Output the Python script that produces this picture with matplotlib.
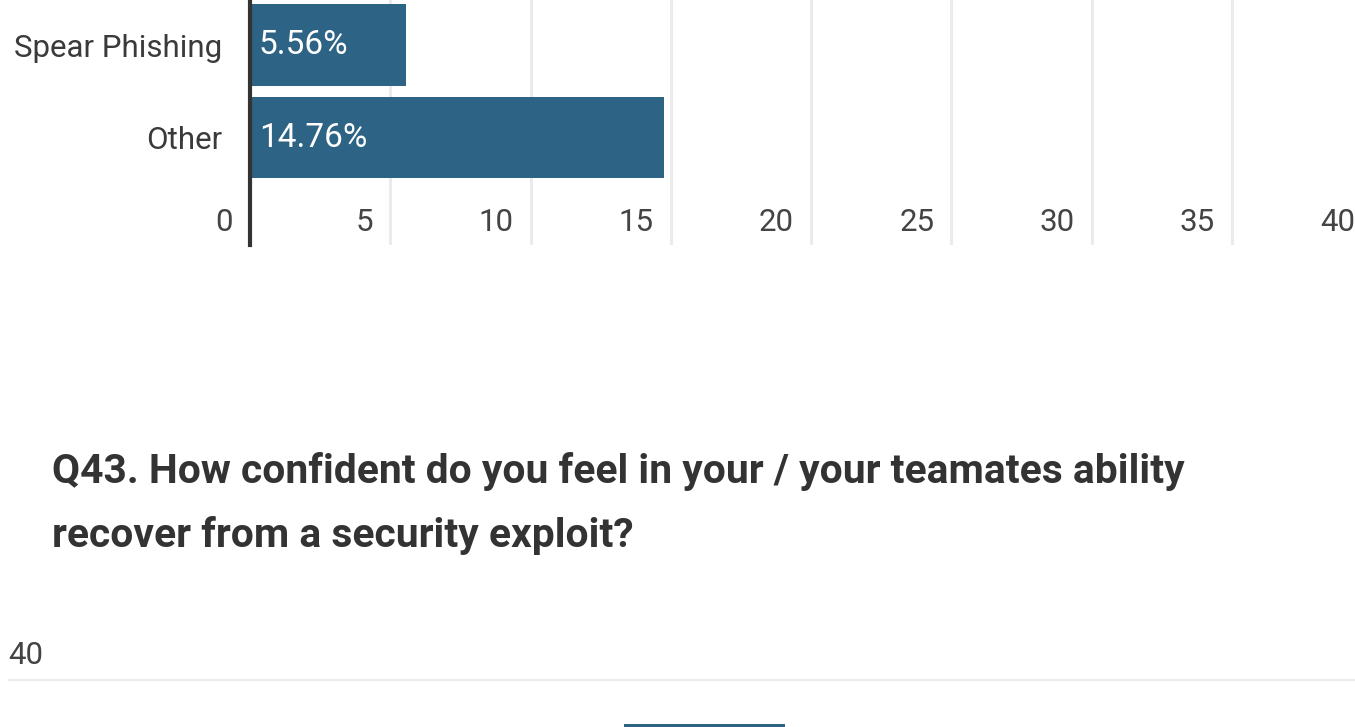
import matplotlib
matplotlib.use("Agg")
import matplotlib.pyplot as plt
from matplotlib.transforms import ScaledTranslation

# data
categories = ["Spear Phishing", "Other"]
values = [5.56, 14.76]
value_labels = ["5.56%", "14.76%"]
xticks = [0, 5, 10, 15, 20, 25, 30, 35, 40]

title_lines = ["Q43. How confident do you feel in your / your teamates ability",
               "recover from a security exploit?"]
next_yticks = [40]
next_values = [35.5]
next_pos = [0.517]

bar_color = "#2d6384"
text_color = "#3a3a3a"
lab = dict(family="Roboto", fontsize=22.5)

W, H = 1355, 727
fig = plt.figure(figsize=(W / 100, H / 100), dpi=100)

# top chart (horizontal bars), partly cut off by the screenshot
ax = fig.add_axes([250 / W, 1 - 245 / H, 1122 / W, 255 / H])
ypos = list(range(len(categories)))
ax.barh(ypos, values, height=0.886, color=bar_color, zorder=2)
ax.set_xlim(0, 40)
ax.set_ylim(2.162, -0.595)
ax.set_yticks(ypos)
ax.set_yticklabels(categories, color=text_color, **lab)
ax.tick_params(axis="y", length=0, pad=20)
ax.set_xticks([])
for v in xticks[1:]:
    ax.axvline(v, color="#ebebeb", lw=2.2, zorder=1)
ax.axvline(0, color="#333333", lw=3, zorder=3, clip_on=False)
for s in ax.spines.values():
    s.set_visible(False)

shift = ScaledTranslation(-17 / 100, 0, fig.dpi_scale_trans)
for v in xticks:
    ax.text(v, 1.914, str(v), transform=ax.transData + shift, ha="right", va="center",
            color="#444444", **lab)

push = ScaledTranslation(9 / 100, 0, fig.dpi_scale_trans)
for y, txt in zip(ypos, value_labels):
    ax.text(0, y, txt, transform=ax.transData + push, ha="left", va="center",
            color="white", zorder=4, family="Roboto", fontsize=24)

# question title
for line, base in zip(title_lines, [483, 547]):
    fig.text(52 / W, 1 - base / H, line, fontsize=29.3, fontweight="bold",
             family="Roboto", color="#333333", va="baseline")

# next chart, only its top edge is visible
ax2 = fig.add_axes([8 / W, 1 - 1079 / H, 1347 / W, 400 / H])
ax2.bar(next_pos, next_values, width=0.12, color=bar_color, zorder=2)
ax2.set_xlim(0, 1)
ax2.set_ylim(0, 40)
for v in next_yticks:
    ax2.axhline(v, color="#ebebeb", lw=2.2, zorder=1)
ax2.set_xticks([])
ax2.set_yticks([])
for s in ax2.spines.values():
    s.set_visible(False)
fig.text(8 / W, 1 - 655 / H, str(next_yticks[0]), color="#444444",
         va="center", ha="left", **lab)

fig.savefig("out.png", dpi=100)
